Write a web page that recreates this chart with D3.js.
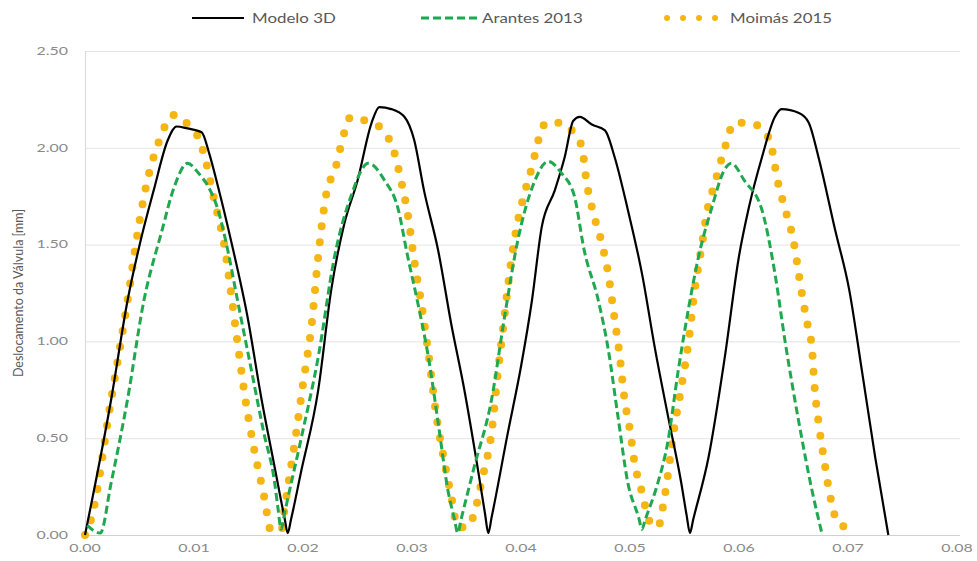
<!DOCTYPE html>
<html>
<head>
<meta charset="utf-8">
<script src="https://cdn.jsdelivr.net/npm/d3@7"></script>
<style>
  body { margin: 0; background: #fff; }
  text { font-family: Lato, "Open Sans", sans-serif; }
</style>
</head>
<body>
<div id="chart"></div>
<script>
////////// Data: [tempo (s), deslocamento (mm)] //////////

var modelo3D = [
  [0, 0], [0.0024, 0.70], [0.0039, 1.21], [0.0051, 1.52], [0.0063, 1.78], [0.0076, 2.04],
  [0.0084, 2.11], [0.0094, 2.10], [0.0107, 2.08], [0.0114, 1.97], [0.0122, 1.80], [0.0134, 1.52],
  [0.0149, 1.13], [0.0162, 0.70], [0.0174, 0.35], [0.0183, 0.09], [0.0186, 0.01], [0.0189, 0.08],
  [0.0198, 0.32], [0.0214, 0.75], [0.0226, 1.27], [0.0238, 1.61], [0.0250, 1.83], [0.0263, 2.13],
  [0.0270, 2.21], [0.0281, 2.20], [0.0293, 2.16], [0.0302, 2.04], [0.0311, 1.78], [0.0324, 1.47],
  [0.0336, 1.09], [0.0348, 0.75], [0.0361, 0.32], [0.0367, 0.11], [0.0370, 0.01], [0.0373, 0.09],
  [0.0388, 0.53], [0.0400, 0.87], [0.0410, 1.21], [0.0419, 1.59], [0.0431, 1.78], [0.0440, 1.95],
  [0.0448, 2.14], [0.0454, 2.16], [0.0465, 2.12], [0.0477, 2.09], [0.0486, 1.95], [0.0498, 1.68],
  [0.0511, 1.35], [0.0523, 0.96], [0.0535, 0.61], [0.0547, 0.27], [0.0552, 0.10], [0.0555, 0.01],
  [0.0558, 0.08],
  [0.0572, 0.40], [0.0587, 0.92], [0.0600, 1.44], [0.0609, 1.69], [0.0621, 1.95], [0.0633, 2.16],
  [0.0639, 2.20], [0.0655, 2.18], [0.0664, 2.13], [0.0673, 1.95], [0.0688, 1.58], [0.0701, 1.27],
  [0.0713, 0.84], [0.0725, 0.40], [0.0737, 0.00]
];

var arantes2013 = [
  [0.0002, 0.05], [0.0014, 0.01], [0.0024, 0.27], [0.0039, 0.70], [0.0054, 1.21], [0.0070, 1.56],
  [0.0082, 1.80], [0.0094, 1.92], [0.0104, 1.87], [0.0113, 1.80], [0.0122, 1.68], [0.0131, 1.47],
  [0.0140, 1.21], [0.0152, 0.87], [0.0164, 0.53], [0.0174, 0.27], [0.0177, 0.14], [0.0180, 0.03],
  [0.0183, 0.11],
  [0.0198, 0.49], [0.0214, 0.92], [0.0229, 1.44], [0.0244, 1.75], [0.0260, 1.92], [0.0275, 1.83],
  [0.0287, 1.69], [0.0296, 1.44], [0.0306, 1.18], [0.0315, 0.92], [0.0324, 0.58], [0.0333, 0.23],
  [0.0339, 0.08], [0.0342, 0.01], [0.0345, 0.08],
  [0.0357, 0.35], [0.0373, 0.70], [0.0385, 1.13], [0.0397, 1.52], [0.0412, 1.82], [0.0425, 1.93],
  [0.0437, 1.87], [0.0449, 1.75], [0.0458, 1.47], [0.0471, 1.21], [0.0480, 0.96], [0.0489, 0.61],
  [0.0498, 0.27], [0.0508, 0.09], [0.0511, 0.03], [0.0514, 0.08],
  [0.0524, 0.24], [0.0535, 0.49], [0.0544, 0.84], [0.0554, 1.18], [0.0563, 1.44], [0.0575, 1.69],
  [0.0587, 1.89], [0.0593, 1.92], [0.0605, 1.83], [0.0621, 1.68], [0.0633, 1.35], [0.0642, 1.01],
  [0.0655, 0.58], [0.0667, 0.23], [0.0676, 0.01]
];

var moimas2015 = [
  [0, 0], [0.0005, 0.07], [0.0024, 0.70], [0.0039, 1.21], [0.0050, 1.62], [0.0056, 1.80],
  [0.0067, 2.02], [0.0082, 2.17], [0.0096, 2.11], [0.0105, 2.04], [0.0109, 1.97], [0.0119, 1.72],
  [0.0128, 1.49], [0.0134, 1.25], [0.0140, 0.99], [0.0148, 0.67], [0.0156, 0.42], [0.0165, 0.18],
  [0.0170, 0.03], [0.0180, 0.02],
  [0.0183, 0.13], [0.0187, 0.28], [0.0192, 0.46], [0.0200, 0.78], [0.0208, 1.09], [0.0214, 1.44],
  [0.0221, 1.75], [0.0230, 1.90], [0.0238, 2.08], [0.0244, 2.16], [0.0250, 2.15], [0.0263, 2.13],
  [0.0275, 2.08], [0.0283, 1.99], [0.0290, 1.83], [0.0296, 1.66], [0.0302, 1.42], [0.0309, 1.18],
  [0.0315, 0.94], [0.0322, 0.63], [0.0330, 0.37], [0.0336, 0.20], [0.0342, 0.04], [0.0351, 0.04],
  [0.0357, 0.11], [0.0364, 0.28], [0.0373, 0.53], [0.0379, 0.85], [0.0384, 1.09], [0.0389, 1.33],
  [0.0396, 1.59], [0.0402, 1.74], [0.0410, 1.90], [0.0417, 2.06], [0.0423, 2.13], [0.0435, 2.13],
  [0.0448, 2.08], [0.0456, 2.00], [0.0460, 1.83], [0.0466, 1.67], [0.0474, 1.51], [0.0480, 1.35],
  [0.0486, 1.11], [0.0490, 0.95], [0.0495, 0.70], [0.0500, 0.54], [0.0504, 0.38], [0.0511, 0.22],
  [0.0518, 0.07], [0.0526, 0.04],
  [0.0529, 0.11], [0.0534, 0.28], [0.0540, 0.53], [0.0547, 0.76], [0.0554, 1.01], [0.0559, 1.25],
  [0.0566, 1.50], [0.0570, 1.65], [0.0578, 1.82], [0.0586, 1.98], [0.0596, 2.13], [0.0609, 2.13],
  [0.0624, 2.08], [0.0630, 2.00], [0.0635, 1.84], [0.0642, 1.69], [0.0650, 1.52], [0.0657, 1.27],
  [0.0662, 1.11], [0.0667, 0.96], [0.0669, 0.79], [0.0674, 0.54], [0.0678, 0.39], [0.0683, 0.22],
  [0.0691, 0.06], [0.0699, 0.04]
];

var xTicks = [0, 0.01, 0.02, 0.03, 0.04, 0.05, 0.06, 0.07, 0.08];
var yTicks = [0, 0.5, 1, 1.5, 2, 2.5];
var seriesNames = ["Modelo 3D", "Arantes 2013", "Moimás 2015"];
var yTitle = "Deslocamento da Válvula [mm]";

////////// Display chart //////////

var width = 977, height = 561;
var stretch = "scale(1.45,1)";   // the source picture is stretched sideways

var x = d3.scaleLinear().domain([0, 0.08]).range([85, 957]);
var y = d3.scaleLinear().domain([0, 2.5]).range([535, 51]);

var svg = d3.select("#chart").append("svg")
  .attr("width", width)
  .attr("height", height);

// horizontal gridlines
svg.append("g")
  .selectAll("line")
  .data(yTicks)
  .enter().append("line")
  .attr("x1", x(0))
  .attr("x2", 960)
  .attr("y1", function(d) { return y(d) + 0.5; })
  .attr("y2", function(d) { return y(d) + 0.5; })
  .style("stroke", function(d) { return d == 0 ? "#d0d0d0" : "#e4e4e4"; })
  .style("stroke-width", 1);

// left axis line
svg.append("line")
  .attr("x1", x(0) + 0.5).attr("x2", x(0) + 0.5)
  .attr("y1", y(2.5)).attr("y2", y(0))
  .style("stroke", "#d9d9d9");

// tick labels
svg.append("g")
  .selectAll("text")
  .data(yTicks)
  .enter().append("text")
  .attr("transform", function(d) { return "translate(68," + y(d) + ") " + stretch; })
  .attr("text-anchor", "end")
  .attr("dy", "0.35em")
  .style("font-size", "11px")
  .style("fill", "#8a8a8a")
  .text(d3.format(".2f"));

svg.append("g")
  .selectAll("text")
  .data(xTicks)
  .enter().append("text")
  .attr("transform", function(d) { return "translate(" + x(d) + ",552) " + stretch; })
  .attr("text-anchor", "middle")
  .style("font-size", "11px")
  .style("fill", "#8a8a8a")
  .text(d3.format(".2f"));

// y title
svg.append("text")
  .attr("transform", "translate(23," + ((y(0) + y(2.5)) / 2) + ") rotate(-90)")
  .attr("text-anchor", "middle")
  .style("font-size", "12.5px")
  .style("fill", "#595959")
  .text(yTitle);

var line = d3.line()
  .x(function(d) { return x(d[0]); })
  .y(function(d) { return y(d[1]); })
  .curve(d3.curveMonotoneX);

var styles = [
  { color: "#000000", width: 2.2, dash: null, cap: "butt" },
  { color: "#1fa84f", width: 3, dash: "8 4", cap: "butt" },
  { color: "#f5b512", width: 8, dash: "0 16", cap: "round" }
];

// Moimás underneath, then Modelo 3D, then Arantes
var order = [2, 0, 1];
var allData = [modelo3D, arantes2013, moimas2015];

order.forEach(function(i) {
  svg.append("path")
    .datum(allData[i])
    .attr("d", line)
    .style("fill", "none")
    .style("stroke", styles[i].color)
    .style("stroke-width", styles[i].width)
    .style("stroke-dasharray", styles[i].dash)
    .style("stroke-linecap", styles[i].cap)
    .style("stroke-linejoin", "round");
});

// legend
var legendX = [{ x1: 192, x2: 244, tx: 252 }, { x1: 421, x2: 477, tx: 482 }, { x1: 667, x2: 718, tx: 730 }];
var legend = svg.append("g");
seriesNames.forEach(function(name, i) {
  legend.append("line")
    .attr("x1", legendX[i].x1).attr("x2", legendX[i].x2)
    .attr("y1", 18).attr("y2", 18)
    .style("stroke", styles[i].color)
    .style("stroke-width", i == 2 ? 6 : styles[i].width)
    .style("stroke-dasharray", i == 2 ? "0 16" : styles[i].dash)
    .style("stroke-linecap", styles[i].cap);
  legend.append("text")
    .attr("transform", "translate(" + legendX[i].tx + ",18) scale(1.25,1)")
    .attr("dy", "0.35em")
    .style("font-size", "13.5px")
    .style("fill", "#595959")
    .text(name);
});
</script>
</body>
</html>
